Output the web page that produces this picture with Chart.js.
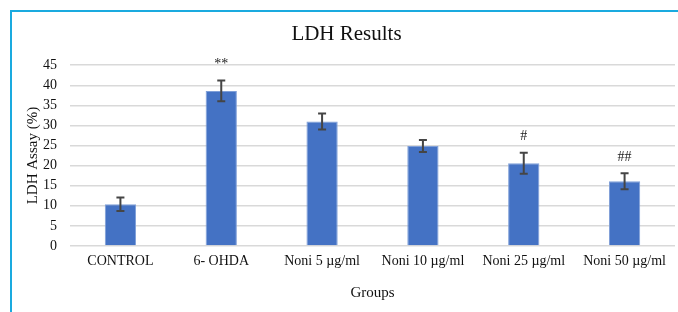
<!DOCTYPE html>
<html>
<head>
<meta charset="utf-8">
<script src="https://cdn.jsdelivr.net/npm/chart.js@4/dist/chart.umd.min.js"></script>
<style>
    body { margin: 0; background: #fff; }
    #wrap { position: relative; width: 678px; height: 312px; }
    #frame {
        position: absolute; left: 10px; top: 10px; right: 0; bottom: 0;
        border-top: 2px solid #1aaadf; border-left: 2px solid #1aaadf;
        pointer-events: none;
    }
</style>
</head>
<body>
<div id="wrap">
    <canvas id="chart" width="678" height="312"></canvas>
    <div id="frame"></div>
</div>
<script>
// Groups on the x axis
const groups = ['CONTROL', '6- OHDA', 'Noni 5 µg/ml', 'Noni 10 µg/ml', 'Noni 25 µg/ml', 'Noni 50 µg/ml'];
// LDH assay values (%)
const ldhValues = [10.4, 38.6, 31.0, 24.9, 20.6, 16.1];
// standard error (half length of each error bar)
const ldhErrors = [1.7, 2.6, 2.0, 1.5, 2.6, 2.0];
// significance marks above the bars
const marks = ['', '**', '', '', '#', '##'];
const yTicks = [0, 5, 10, 15, 20, 25, 30, 35, 40, 45];

const serif = "'Liberation Serif', 'Times New Roman', serif";

// Draws the error bars and the significance marks from the scales
const errorBarPlugin = {
    id: 'errorBars',
    afterDatasetsDraw(chart) {
        const ctx = chart.ctx;
        const x = chart.scales.x;
        const y = chart.scales.y;
        ctx.save();
        ctx.strokeStyle = '#454545';
        ctx.lineWidth = 2;
        groups.forEach((g, i) => {
            const cx = x.getPixelForValue(i);
            const top = y.getPixelForValue(ldhValues[i] + ldhErrors[i]);
            const bot = y.getPixelForValue(ldhValues[i] - ldhErrors[i]);
            ctx.beginPath();
            ctx.moveTo(cx, top); ctx.lineTo(cx, bot);
            ctx.moveTo(cx - 4, top); ctx.lineTo(cx + 4, top);
            ctx.moveTo(cx - 4, bot); ctx.lineTo(cx + 4, bot);
            ctx.stroke();
            if (marks[i]) {
                ctx.fillStyle = '#222';
                ctx.font = '14px ' + serif;
                ctx.textAlign = 'center';
                ctx.textBaseline = 'middle';
                ctx.fillText(marks[i], cx, top - 16);
            }
        });
        ctx.restore();
    }
};

new Chart(document.getElementById('chart').getContext('2d'), {
    type: 'bar',
    data: {
        labels: groups,
        datasets: [{
            label: 'LDH Assay',
            data: ldhValues,
            backgroundColor: '#4472c4',
            borderColor: '#7f9fd8',
            borderWidth: 1,
            barPercentage: 0.31,
            categoryPercentage: 1
        }]
    },
    plugins: [errorBarPlugin],
    options: {
        responsive: false,
        animation: false,
        layout: { padding: { left: 18, right: 3, top: 0, bottom: 10 } },
        scales: {
            x: {
                grid: { display: false, drawTicks: false },
                border: { display: false },
                ticks: { color: '#111', padding: 7, font: { family: serif, size: 14 } },
                title: {
                    display: true, text: 'Groups', color: '#111',
                    font: { family: serif, size: 15 }, padding: 0
                },
                afterFit(scale) { scale.height = 56; }
            },
            y: {
                min: 0,
                max: 45,
                afterBuildTicks(scale) { scale.ticks = yTicks.map(v => ({ value: v })); },
                grid: { color: '#d9d9d9', lineWidth: 1.5, drawTicks: false },
                border: { display: false },
                ticks: { color: '#111', padding: 13, font: { family: serif, size: 14 } },
                title: {
                    display: true, text: 'LDH Assay (%)', color: '#111',
                    font: { family: serif, size: 15 }, padding: { top: 6, bottom: 0 }
                },
                afterFit(scale) { scale.width = 52; }
            }
        },
        plugins: {
            legend: { display: false },
            tooltip: { enabled: false },
            title: {
                display: true, text: 'LDH Results', color: '#111',
                font: { family: serif, size: 21, weight: 'normal' },
                padding: { top: 22, bottom: 18 }
            }
        }
    }
});
</script>
</body>
</html>
